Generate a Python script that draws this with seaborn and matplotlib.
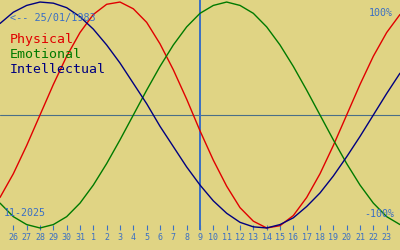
import matplotlib
matplotlib.use("Agg")
import matplotlib.pyplot as plt
import seaborn as sns
import pandas as pd

# ---- data ----
positions = list(range(31))  # day slots: Oct 25 ... Nov 24
tick_positions = list(range(1, 30))
day_labels = ["26", "27", "28", "29", "30", "31", "1", "2", "3", "4", "5", "6", "7", "8",
              "9", "10", "11", "12", "13", "14", "15", "16", "17", "18", "19", "20",
              "21", "22", "23"]
physical = [-0.73, -0.52, -0.27, 0.00, 0.27, 0.52, 0.73, 0.89, 0.98, 1.00, 0.94,
            0.82, 0.63, 0.40, 0.14, -0.14, -0.40, -0.63, -0.82, -0.94, -1.00,
            -0.98, -0.89, -0.73, -0.52, -0.27, 0.00, 0.27, 0.52, 0.73, 0.89]
emotional = [-0.78, -0.90, -0.97, -1.00, -0.97, -0.90, -0.78, -0.62, -0.43, -0.22,
             0.00, 0.22, 0.43, 0.62, 0.78, 0.90, 0.97, 1.00, 0.97, 0.90, 0.78,
             0.62, 0.43, 0.22, 0.00, -0.22, -0.43, -0.62, -0.78, -0.90, -0.97]
intellectual = [0.81, 0.91, 0.97, 1.00, 0.99, 0.95, 0.87, 0.76, 0.62, 0.46, 0.28,
                0.10, -0.10, -0.28, -0.46, -0.62, -0.76, -0.87, -0.95, -0.99, -1.00,
                -0.97, -0.91, -0.81, -0.69, -0.54, -0.37, -0.19, 0.00, 0.19, 0.37]
series_names = ["Physical", "Emotional", "Intellectual"]
series_colors = ["#e00000", "#007a00", "#000080"]
today_position = 15
birth_text = "<-- 25/01/1983"
month_text = "11-2025"
top_label = "100%"
bottom_label = "-100%"

bg = "#e0d484"
blue = "#3a6fc4"

sns.set_theme(style="white")
plt.rcParams["font.family"] = ["DejaVu Sans Mono", "DejaVu Sans"]

fig = plt.figure(figsize=(4, 2.5), dpi=100, facecolor=bg)
ax = fig.add_axes([0, 20 / 250, 1, 230 / 250])
ax.set_facecolor(bg)

df = pd.DataFrame({
    "pos": positions * 3,
    "value": physical + emotional + intellectual,
    "series": [n for n in series_names for _ in positions],
})
sns.lineplot(data=df, x="pos", y="value", hue="series", hue_order=series_names,
             palette=series_colors, ax=ax, legend=False, linewidth=1.0)

ax.axhline(0, color="#4a6f88", linewidth=0.8, zorder=0)
ax.axvline(today_position, color=blue, linewidth=1.4, zorder=0)

ax.set_xlim(0, 30)
ax.set_ylim(-1.018, 1.018)
for s in ax.spines.values():
    s.set_visible(False)
ax.set_xticks(tick_positions)
ax.set_xticklabels(day_labels)
ax.set_yticks([])
ax.set_xlabel("")
ax.set_ylabel("")
ax.tick_params(axis="x", direction="in", length=3.6, width=0.8, color=blue,
               labelcolor=blue, labelsize=6, pad=2.5, bottom=True)

def fx(x):
    return x / 400

def fy(y):
    return 1 - y / 250

fig.text(fx(10), fy(21), birth_text, color=blue, fontsize=7.3, va="baseline")
for name, col, base in zip(series_names, series_colors, [43, 58, 73]):
    fig.text(fx(10), fy(base), name, color=col, fontsize=9.5, va="baseline")
fig.text(fx(393), fy(16), top_label, color=blue, fontsize=7.2, ha="right", va="baseline")
fig.text(fx(394), fy(217), bottom_label, color=blue, fontsize=7.2, ha="right", va="baseline")
fig.text(fx(4), fy(216), month_text, color=blue, fontsize=7.2, va="baseline")

fig.savefig("out.png", dpi=100, facecolor=bg)
